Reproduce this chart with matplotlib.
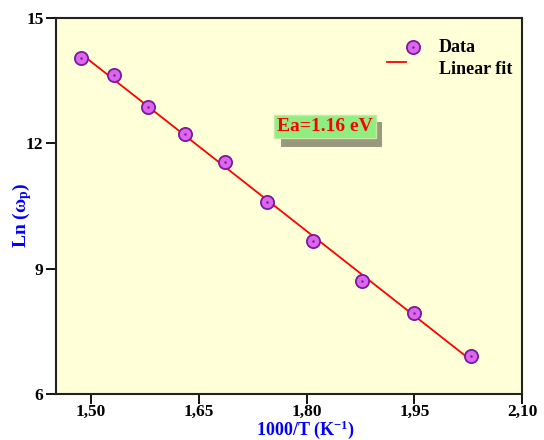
import numpy as np
import matplotlib
matplotlib.use("Agg")
import matplotlib.pyplot as plt
from matplotlib.patches import Rectangle
from matplotlib.lines import Line2D
from matplotlib.ticker import FuncFormatter

inv_T = [1.486, 1.532, 1.579, 1.631, 1.687, 1.745, 1.809, 1.877, 1.950, 2.029]
ln_wp = [14.04, 13.64, 12.87, 12.22, 11.56, 10.60, 9.66, 8.70, 7.93, 6.90]
x_ticks = [1.50, 1.65, 1.80, 1.95, 2.10]
y_ticks = [6, 9, 12, 15]
annotation = "Ea=1.16 eV"
legend_labels = ["Data", "Linear fit"]

plt.rcParams['font.family'] = ['Liberation Serif', 'DejaVu Serif']
plt.rcParams['mathtext.fontset'] = 'custom'
plt.rcParams['mathtext.rm'] = 'Liberation Serif:bold'
plt.rcParams['mathtext.bf'] = 'Liberation Serif:bold'
plt.rcParams['mathtext.it'] = 'Liberation Serif:bold'

W, H = 544, 440
fig = plt.figure(figsize=(W/100, H/100), dpi=100)
L, R, T, B = 56, 522, 18, 394
ax = fig.add_axes([L/W, (H-B)/H, (R-L)/W, (B-T)/H])
ax.set_facecolor('#ffffd8')

def fx(px):
    return px / W
def fy(py):
    return (H - py) / H

MFC, MEC = '#dd66ee', '#7a1a9a'

x = np.array(inv_T)
y = np.array(ln_wp)
p = np.polyfit(x, y, 1)
xf = np.array([x[0], x[-1]])
ax.plot(xf, np.polyval(p, xf), color='red', lw=1.3, zorder=2)
ax.plot(x, y, 'o', ms=9.5, mfc=MFC, mec=MEC, mew=1.3, zorder=3)
ax.plot(x, y, '.', ms=1.5, color=MEC, zorder=4)

ax.set_xlim(1.451, 2.10)
ax.set_ylim(6, 15)
ax.set_xticks(x_ticks)
ax.set_yticks(y_ticks)
ax.xaxis.set_major_formatter(FuncFormatter(lambda v, pos: f"{v:.2f}".replace('.', ',')))
ax.yaxis.set_major_formatter(FuncFormatter(lambda v, pos: f"{v:.0f}"))
ax.tick_params(direction='out', length=7, width=1.3, labelsize=12.5, pad=2)
ax.tick_params(axis='x', pad=0)
for lab in ax.get_xticklabels() + ax.get_yticklabels():
    lab.set_fontweight('bold')
for s in ax.spines.values():
    s.set_linewidth(1.5)
    s.set_color('#222222')

ax.set_xlabel(r"1000/T (K$^{-1}$)", color='blue', fontsize=13, fontweight='bold')
ax.xaxis.set_label_coords((305 - L)/(R - L), (B - 430)/(B - T))
ax.xaxis.label.set_va('center')
ax.set_ylabel(r"Ln ($\omega_{p}$)", color='blue', fontsize=14, fontweight='bold')
ax.yaxis.set_label_coords((22 - L)/(R - L), (B - 215)/(B - T))
ax.yaxis.label.set_va('center')

# manual legend (Origin style)
fig.add_artist(Line2D([fx(413)], [fy(47)], marker='o', ls='none', ms=9.5, mfc=MFC, mec=MEC, mew=1.3))
fig.add_artist(Line2D([fx(413)], [fy(47)], marker='.', ls='none', ms=1.5, color=MEC))
fig.add_artist(Line2D([fx(387), fx(406)], [fy(62), fy(62)], color='red', lw=1.3))
fig.text(fx(439), fy(48), legend_labels[0], fontsize=13, fontweight='bold', va='center', ha='left')
fig.text(fx(439), fy(70), legend_labels[1], fontsize=13, fontweight='bold', va='center', ha='left')

# annotation box with shadow
fig.add_artist(Rectangle((fx(281), fy(147)), fx(382) - fx(281), fy(122) - fy(147),
                         transform=fig.transFigure, fc='#999980', ec='none', zorder=5))
fig.add_artist(Rectangle((fx(274), fy(138)), fx(376) - fx(274), fy(115) - fy(138),
                         transform=fig.transFigure, fc='#90ee80', ec='#c8e8a0', lw=1, zorder=6))
fig.text(fx(325), fy(126.5), annotation, fontsize=14, fontweight='bold', color='red',
         ha='center', va='center', zorder=7)

fig.savefig('out.png', dpi=100)
